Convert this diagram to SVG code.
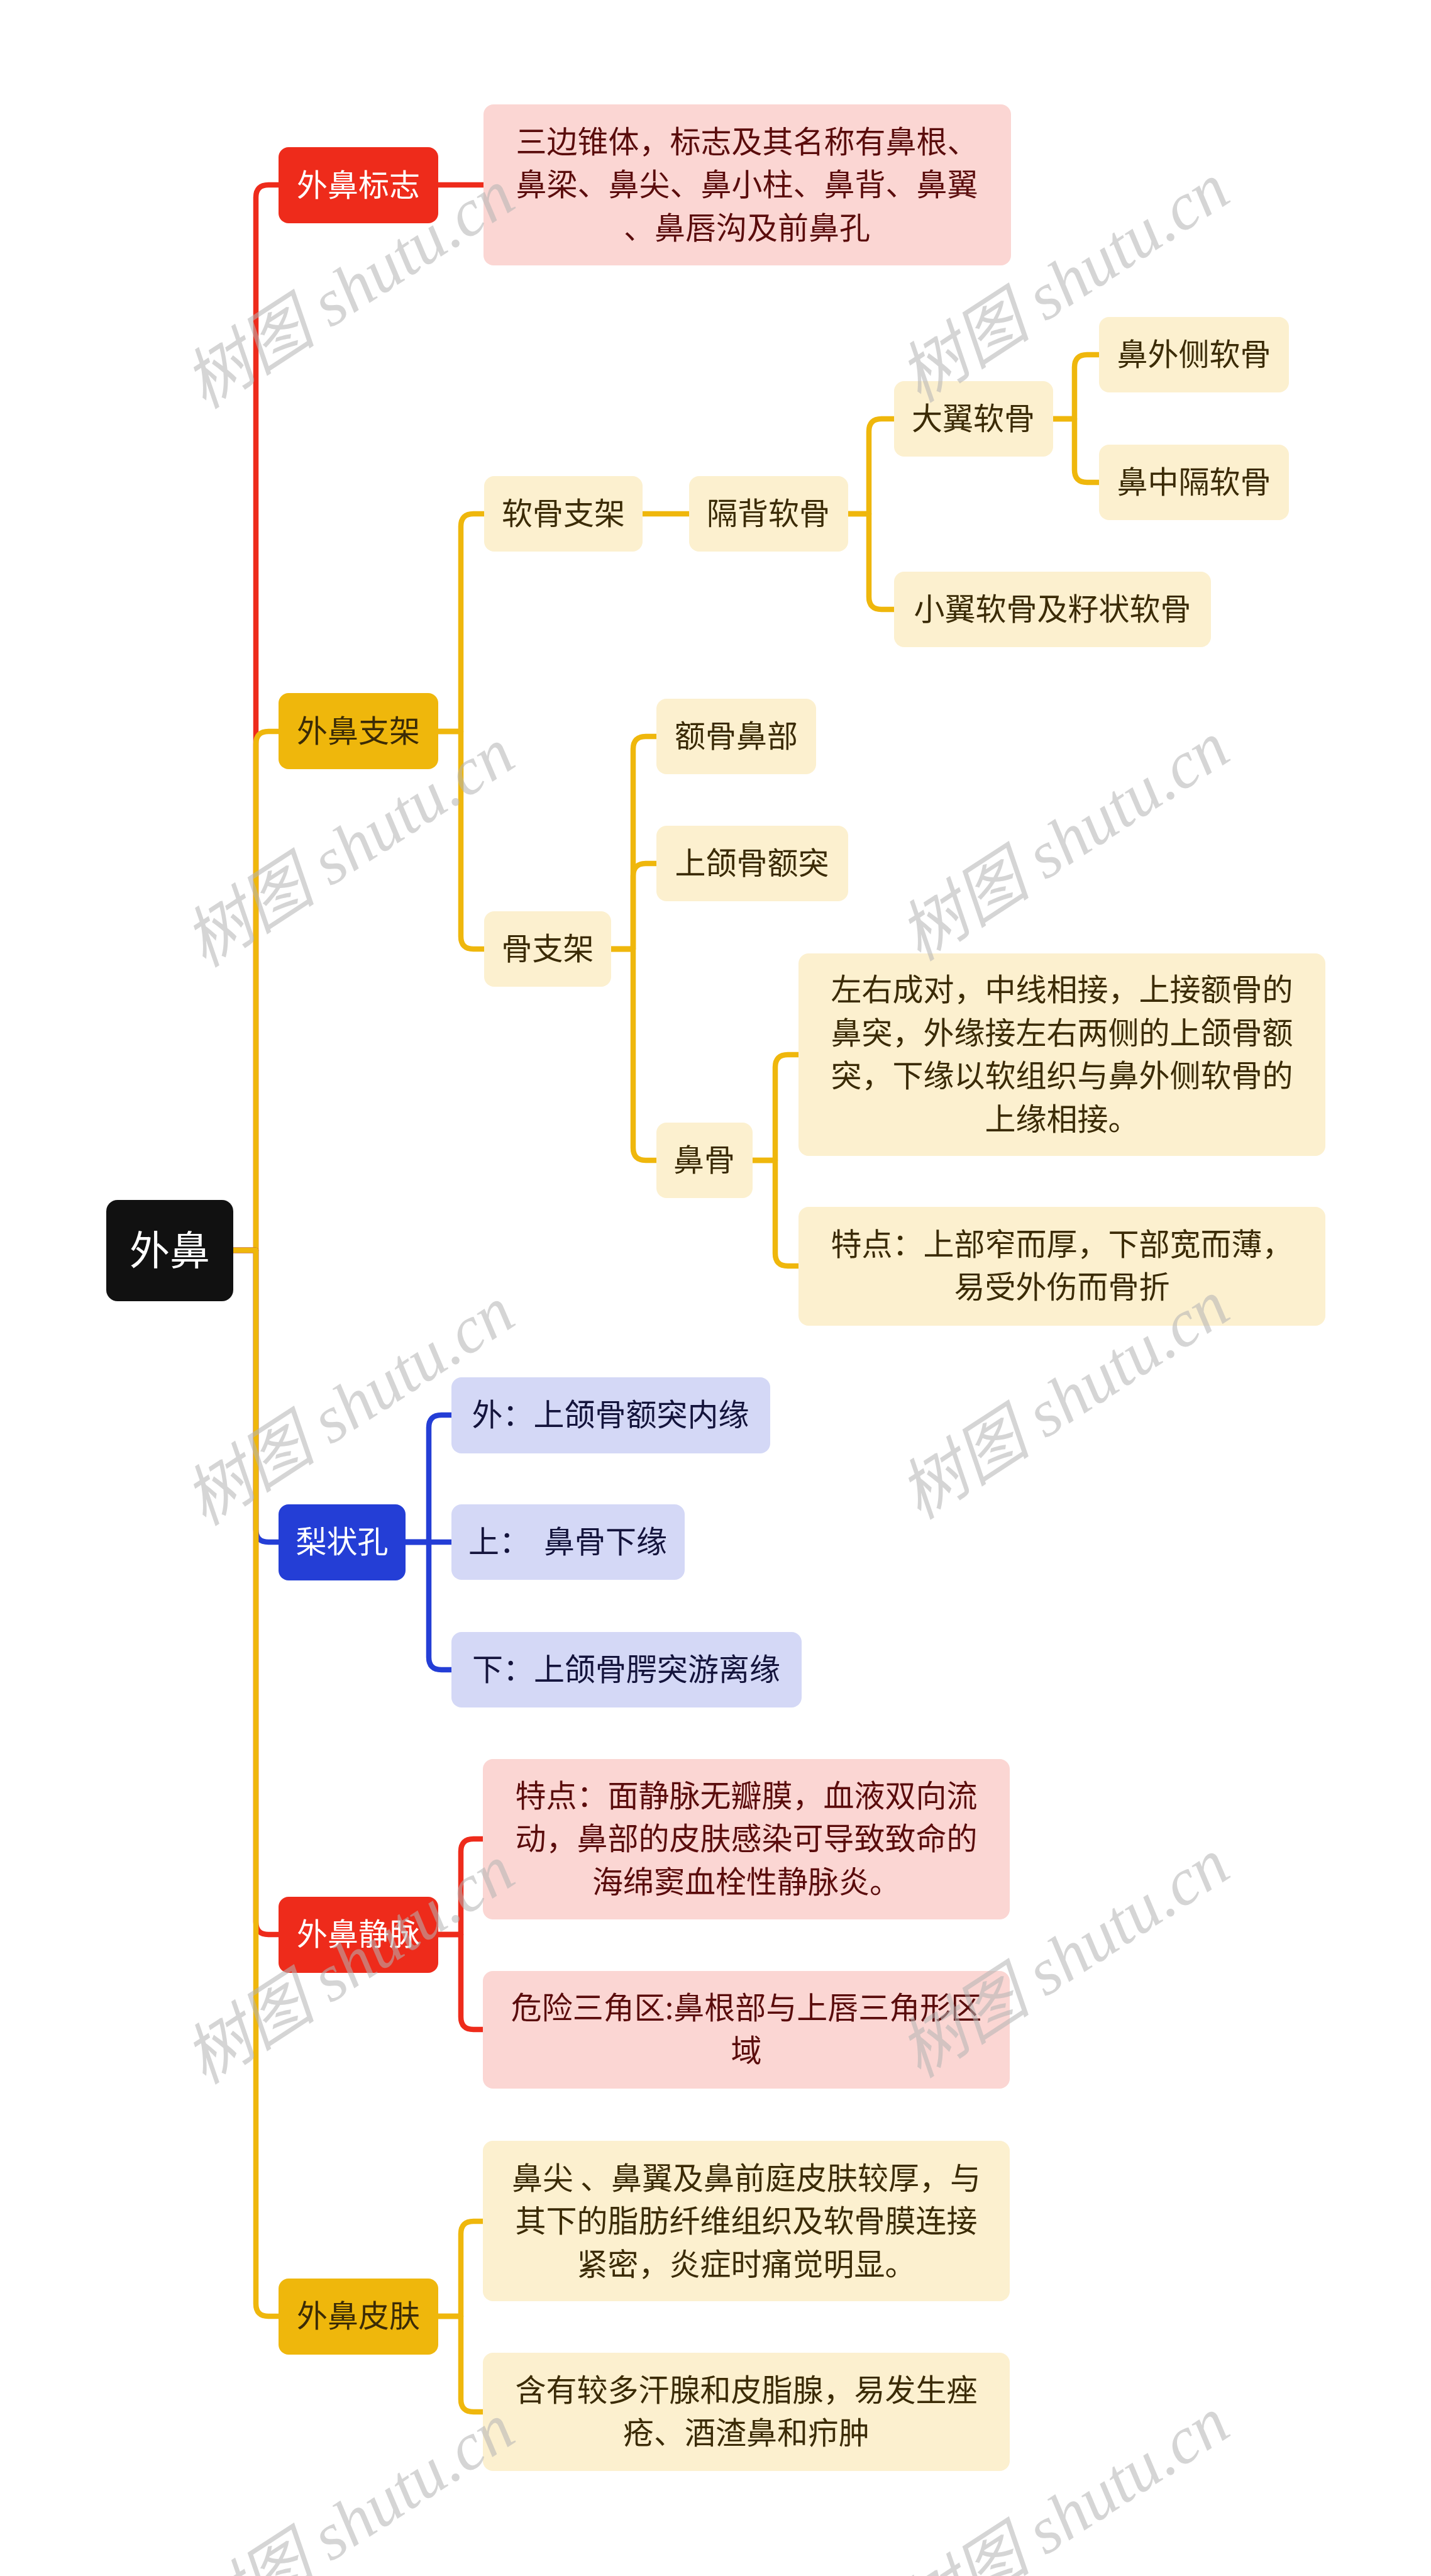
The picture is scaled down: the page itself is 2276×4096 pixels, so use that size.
<svg xmlns="http://www.w3.org/2000/svg" width="2276" height="4096" viewBox="0 0 2276 4096">
<style>
.t{font-family:"Noto Sans CJK SC","Noto Sans",sans-serif;font-size:49px;text-anchor:middle}
.root{font-size:64px;fill:#ffffff}
.w{fill:#ffffff}
.b{fill:#3b2b06}
.r{fill:#5a0c0c}
.n{fill:#14143c}
.c{fill:none;stroke-width:8.5;stroke-linecap:butt;stroke-linejoin:round}
.cr{stroke:#ee2b1b}
.cy{stroke:#efb70c}
.cb{stroke:#243ed6}
.fr{fill:#ee2b1b}
.fy{fill:#efb70c}
.fb{fill:#243ed6}
.lp{fill:#fbd6d3}
.ly{fill:#fcf0cf}
.lb{fill:#d4d8f6}
.wm{font-family:"Liberation Serif","Noto Sans CJK SC",serif;font-style:italic;font-size:106px;fill:#b4b4b4;opacity:0.55;text-anchor:middle}
</style>
<rect width="2276" height="4096" fill="#ffffff"/>
<g id="connectors">
<path class="c cr" d="M371,1988 H407 V314 Q407,294 427,294 H443"/>
<path class="c cy" d="M371,1988 H407 V1183 Q407,1163 427,1163 H443"/>
<path class="c cb" d="M371,1988 H407 V2432 Q407,2452 427,2452 H443"/>
<path class="c cr" d="M371,1988 H407 V3056 Q407,3076 427,3076 H443"/>
<path class="c cy" d="M371,1988 H407 V3663 Q407,3683 427,3683 H443"/>
<path class="c cr" d="M697,294 H769"/>
<path class="c cy" d="M697,1163 H733 V837 Q733,817 753,817 H770"/>
<path class="c cy" d="M697,1163 H733 V1489 Q733,1509 753,1509 H770"/>
<path class="c cy" d="M1022,817 H1096"/>
<path class="c cy" d="M1349,817 H1382 V686 Q1382,666 1402,666 H1422"/>
<path class="c cy" d="M1349,817 H1382 V949 Q1382,969 1402,969 H1422"/>
<path class="c cy" d="M1675,666 H1709 V584 Q1709,564 1729,564 H1748"/>
<path class="c cy" d="M1675,666 H1709 V747 Q1709,767 1729,767 H1748"/>
<path class="c cy" d="M972,1509 H1007 V1191 Q1007,1171 1027,1171 H1044"/>
<path class="c cy" d="M972,1509 H1007 V1393 Q1007,1373 1027,1373 H1044"/>
<path class="c cy" d="M972,1509 H1007 V1825 Q1007,1845 1027,1845 H1044"/>
<path class="c cy" d="M1197,1845 H1233 V1697 Q1233,1677 1253,1677 H1270"/>
<path class="c cy" d="M1197,1845 H1233 V1993 Q1233,2013 1253,2013 H1270"/>
<path class="c cb" d="M645,2452 H682 V2270 Q682,2250 702,2250 H718"/>
<path class="c cb" d="M645,2452 H718"/>
<path class="c cb" d="M645,2452 H682 V2635 Q682,2655 702,2655 H718"/>
<path class="c cr" d="M697,3076 H733 V2944 Q733,2924 753,2924 H768"/>
<path class="c cr" d="M697,3076 H733 V3207 Q733,3227 753,3227 H768"/>
<path class="c cy" d="M697,3683 H733 V3552 Q733,3532 753,3532 H768"/>
<path class="c cy" d="M697,3683 H733 V3815 Q733,3835 753,3835 H768"/>
</g>
<g id="n-root"><rect x="169" y="1908" width="202" height="161" rx="18" fill="#111111"/><text class="t root" x="270" y="2011">外鼻</text></g>
<g id="n-biaozhi"><rect class="fr" x="443" y="234" width="254" height="121" rx="16"/><text class="t w" x="570" y="312">外鼻标志</text></g>
<g id="n-zhijia"><rect class="fy" x="443" y="1102" width="254" height="121" rx="16"/><text class="t b" x="570" y="1180">外鼻支架</text></g>
<g id="n-lizhuang"><rect class="fb" x="443" y="2392" width="202" height="121" rx="16"/><text class="t w" x="544" y="2469">梨状孔</text></g>
<g id="n-jingmai"><rect class="fr" x="443" y="3016" width="254" height="121" rx="16"/><text class="t w" x="570" y="3093">外鼻静脉</text></g>
<g id="n-pifu"><rect class="fy" x="443" y="3623" width="254" height="121" rx="16"/><text class="t b" x="570" y="3700">外鼻皮肤</text></g>

<g id="n-biaozhi-1"><rect class="lp" x="769" y="166" width="839" height="256" rx="16"/>
<text class="t r" x="1188" y="243">三边锥体，标志及其名称有鼻根、</text>
<text class="t r" x="1188" y="311">鼻梁、鼻尖、鼻小柱、鼻背、鼻翼</text>
<text class="t r" x="1188" y="380">、鼻唇沟及前鼻孔</text></g>

<g id="n-ruangu"><rect class="ly" x="770" y="757" width="252" height="120" rx="16"/><text class="t b" x="896" y="834">软骨支架</text></g>
<g id="n-gebei"><rect class="ly" x="1096" y="757" width="253" height="120" rx="16"/><text class="t b" x="1222" y="834">隔背软骨</text></g>
<g id="n-dayi"><rect class="ly" x="1422" y="606" width="253" height="120" rx="16"/><text class="t b" x="1548" y="683">大翼软骨</text></g>
<g id="n-xiaoyi"><rect class="ly" x="1422" y="909" width="504" height="120" rx="16"/><text class="t b" x="1674" y="986">小翼软骨及籽状软骨</text></g>
<g id="n-waice"><rect class="ly" x="1748" y="504" width="302" height="120" rx="16"/><text class="t b" x="1899" y="581">鼻外侧软骨</text></g>
<g id="n-zhongge"><rect class="ly" x="1748" y="707" width="302" height="120" rx="16"/><text class="t b" x="1899" y="784">鼻中隔软骨</text></g>

<g id="n-guzhijia"><rect class="ly" x="770" y="1449" width="202" height="120" rx="16"/><text class="t b" x="871" y="1526">骨支架</text></g>
<g id="n-egu"><rect class="ly" x="1044" y="1111" width="254" height="120" rx="16"/><text class="t b" x="1171" y="1188">额骨鼻部</text></g>
<g id="n-etu"><rect class="ly" x="1044" y="1313" width="305" height="120" rx="16"/><text class="t b" x="1196" y="1390">上颌骨额突</text></g>
<g id="n-bigu"><rect class="ly" x="1044" y="1785" width="153" height="120" rx="16"/><text class="t b" x="1120" y="1862">鼻骨</text></g>
<g id="n-bigu-1"><rect class="ly" x="1270" y="1516" width="838" height="322" rx="16"/>
<text class="t b" x="1689" y="1591">左右成对，中线相接，上接额骨的</text>
<text class="t b" x="1689" y="1660">鼻突，外缘接左右两侧的上颌骨额</text>
<text class="t b" x="1689" y="1728">突，下缘以软组织与鼻外侧软骨的</text>
<text class="t b" x="1689" y="1797">上缘相接。</text></g>
<g id="n-bigu-2"><rect class="ly" x="1270" y="1919" width="838" height="189" rx="16"/>
<text class="t b" x="1689" y="1996">特点：上部窄而厚，下部宽而薄，</text>
<text class="t b" x="1689" y="2064">易受外伤而骨折</text></g>

<g id="n-li-1"><rect class="lb" x="718" y="2190" width="507" height="121" rx="16"/><text class="t n" x="971" y="2267">外：上颌骨额突内缘</text></g>
<g id="n-li-2"><rect class="lb" x="718" y="2392" width="371" height="120" rx="16"/><text class="t n" x="903" y="2469" xml:space="preserve">上：  鼻骨下缘</text></g>
<g id="n-li-3"><rect class="lb" x="718" y="2595" width="557" height="120" rx="16"/><text class="t n" x="996" y="2672">下：上颌骨腭突游离缘</text></g>

<g id="n-jm-1"><rect class="lp" x="768" y="2797" width="838" height="255" rx="16"/>
<text class="t r" x="1187" y="2873">特点：面静脉无瓣膜，血液双向流</text>
<text class="t r" x="1187" y="2941">动，鼻部的皮肤感染可导致致命的</text>
<text class="t r" x="1187" y="3010">海绵窦血栓性静脉炎。</text></g>
<g id="n-jm-2"><rect class="lp" x="768" y="3134" width="838" height="187" rx="16"/>
<text class="t r" x="1187" y="3210">危险三角区:鼻根部与上唇三角形区</text>
<text class="t r" x="1187" y="3278">域</text></g>

<g id="n-pf-1"><rect class="ly" x="768" y="3404" width="838" height="255" rx="16"/>
<text class="t b" x="1187" y="3481" xml:space="preserve">鼻尖 、鼻翼及鼻前庭皮肤较厚，与</text>
<text class="t b" x="1187" y="3549">其下的脂肪纤维组织及软骨膜连接</text>
<text class="t b" x="1187" y="3618">紧密，炎症时痛觉明显。</text></g>
<g id="n-pf-2"><rect class="ly" x="768" y="3741" width="838" height="188" rx="16"/>
<text class="t b" x="1187" y="3818">含有较多汗腺和皮脂腺，易发生痤</text>
<text class="t b" x="1187" y="3886">疮、酒渣鼻和疖肿</text></g>

<g id="watermarks">
<text class="wm" transform="translate(575,490) rotate(-33)">树图 shutu.cn</text>
<text class="wm" transform="translate(1712,480) rotate(-33)">树图 shutu.cn</text>
<text class="wm" transform="translate(575,1378) rotate(-33)">树图 shutu.cn</text>
<text class="wm" transform="translate(1712,1368) rotate(-33)">树图 shutu.cn</text>
<text class="wm" transform="translate(575,2266) rotate(-33)">树图 shutu.cn</text>
<text class="wm" transform="translate(1712,2256) rotate(-33)">树图 shutu.cn</text>
<text class="wm" transform="translate(575,3154) rotate(-33)">树图 shutu.cn</text>
<text class="wm" transform="translate(1712,3144) rotate(-33)">树图 shutu.cn</text>
<text class="wm" transform="translate(575,4042) rotate(-33)">树图 shutu.cn</text>
<text class="wm" transform="translate(1712,4032) rotate(-33)">树图 shutu.cn</text>
</g>
</svg>
